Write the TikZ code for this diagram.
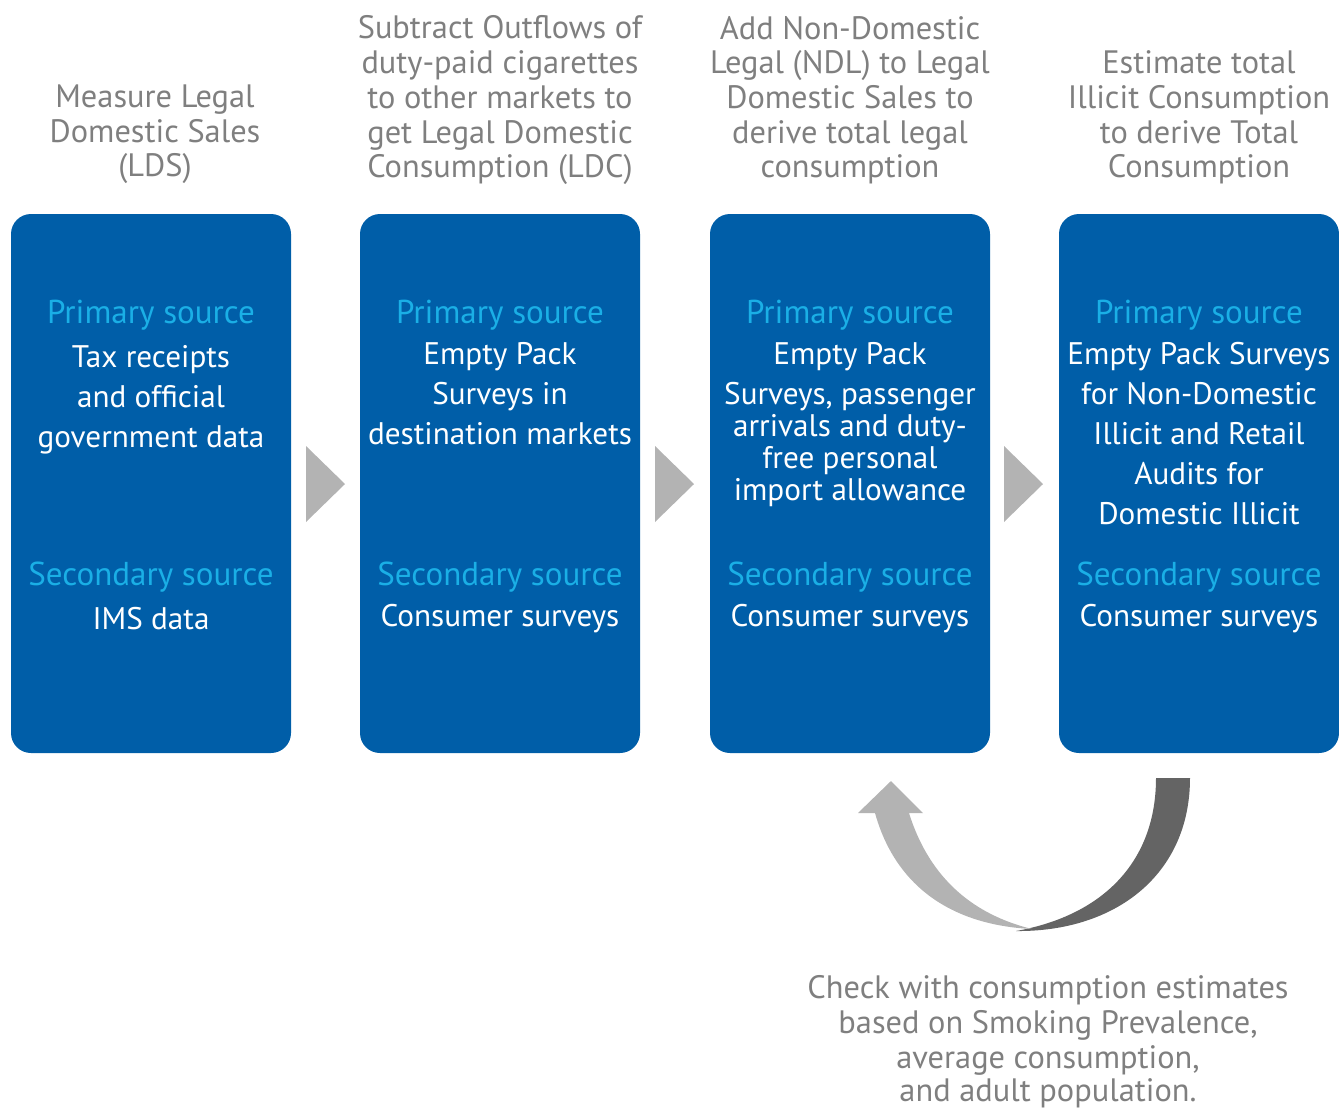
\documentclass[tikz,border=0pt]{standalone}
\usepackage{fontspec}
\setmainfont{PT Sans}
\definecolor{boxblue}{HTML}{005EA8}
\definecolor{srccyan}{HTML}{1AAFE6}
\definecolor{titlegray}{HTML}{7F7F7F}
\definecolor{chevgray}{HTML}{B3B3B3}
\definecolor{darkgray}{HTML}{646464}
\begin{document}
\begin{tikzpicture}[x=0.75pt,y=-0.75pt,
  stagebox/.style={fill=boxblue, rounded corners=15pt},
  chev/.style={fill=chevgray},
  ttl/.style={text=titlegray, font=\fontsize{24.3}{29}\selectfont, text height=0.7em, text depth=0.2em, inner sep=0pt},
  src/.style={text=srccyan, font=\fontsize{24.8}{29}\selectfont, text height=0.7em, text depth=0.2em, inner sep=0pt},
  body/.style={text=white, font=\fontsize{23.4}{29}\selectfont, text height=0.7em, text depth=0.2em, inner sep=0pt}]
\useasboundingbox (0,0) rectangle (1339,1108);
% boxes
\path[stagebox] (11,214) rectangle (291,753);
\path[stagebox] (360,214) rectangle (640,753);
\path[stagebox] (710,214) rectangle (990,753);
\path[stagebox] (1059,214) rectangle (1339,753);
% chevrons
\path[chev] (306,446) -- (345,484) -- (306,522) -- cycle;
\path[chev] (655,446) -- (694,484) -- (655,522) -- cycle;
\path[chev] (1004,446) -- (1043,484) -- (1004,522) -- cycle;
% titles
\node[ttl] (t1a) at (155,104) {Measure Legal};
\node[ttl] (t1b) at (155,139) {Domestic Sales};
\node[ttl] (t1c) at (155,173) {(LDS)};
\node[ttl] (t2a) at (500,35) {Subtract Outflows of};
\node[ttl] (t2b) at (500,70) {duty-paid cigarettes};
\node[ttl] (t2c) at (500,105) {to other markets to};
\node[ttl] (t2d) at (500,140) {get Legal Domestic};
\node[ttl] (t2e) at (500,174) {Consumption (LDC)};
\node[ttl] (t3a) at (850,36) {Add Non-Domestic};
\node[ttl] (t3b) at (850,70) {Legal (NDL) to Legal};
\node[ttl] (t3c) at (850,105) {Domestic Sales to};
\node[ttl] (t3d) at (850,140) {derive total legal};
\node[ttl] (t3e) at (850,174) {consumption};
\node[ttl] (t4a) at (1199,70) {Estimate total};
\node[ttl] (t4b) at (1199,105) {Illicit Consumption};
\node[ttl] (t4c) at (1199,140) {to derive Total};
\node[ttl] (t4d) at (1199,174) {Consumption};
% box 1
\node[src] (p1) at (151,320) {Primary source};
\node[body] (b1a) at (151,364) {Tax receipts};
\node[body] (b1b) at (151,404) {and official};
\node[body] (b1c) at (151,444) {government data};
\node[src] (s1) at (151,582) {Secondary source};
\node[body] (c1) at (151,626) {IMS data};
% box 2
\node[src] (p2) at (500,320) {Primary source};
\node[body] (b2a) at (500,361) {Empty Pack};
\node[body] (b2b) at (500,401) {Surveys in};
\node[body] (b2c) at (500,441) {destination markets};
\node[src] (s2) at (500,582) {Secondary source};
\node[body] (c2) at (500,623) {Consumer surveys};
% box 3
\node[src] (p3) at (850,320) {Primary source};
\node[body] (b3a) at (850,361) {Empty Pack};
\node[body] (b3b) at (850,401) {Surveys, passenger};
\node[body] (b3c) at (850,433) {arrivals and duty-};
\node[body] (b3d) at (850,465) {free personal};
\node[body] (b3e) at (850,497) {import allowance};
\node[src] (s3) at (850,582) {Secondary source};
\node[body] (c3) at (850,623) {Consumer surveys};
% box 4
\node[src] (p4) at (1199,320) {Primary source};
\node[body] (b4a) at (1199,361) {Empty Pack Surveys};
\node[body] (b4b) at (1199,401) {for Non-Domestic};
\node[body] (b4c) at (1199,441) {Illicit and Retail};
\node[body] (b4d) at (1199,481) {Audits for};
\node[body] (b4e) at (1199,521) {Domestic Illicit};
\node[src] (s4) at (1199,582) {Secondary source};
\node[body] (c4) at (1199,623) {Consumer surveys};
% curved feedback arrow
\path[fill=darkgray] (1156,778) -- (1190,778)
  .. controls (1190,875) and (1115,932) .. (1016,931)
  .. controls (1105,915) and (1156,860) .. (1156,778) -- cycle;
\path[fill=chevgray] (858,813) -- (891,781) -- (923,813) -- (909,813)
  .. controls (930,880) and (975,915) .. (1032,929)
  .. controls (950,925) and (895,885) .. (875,813) -- cycle;
% bottom note
\node[ttl] (n1) at (1048,995) {Check with consumption estimates};
\node[ttl] (n2) at (1048,1030) {based on Smoking Prevalence,};
\node[ttl] (n3) at (1048,1065) {average consumption,};
\node[ttl] (n4) at (1048,1098) {and adult population.};
\end{tikzpicture}
\end{document}
